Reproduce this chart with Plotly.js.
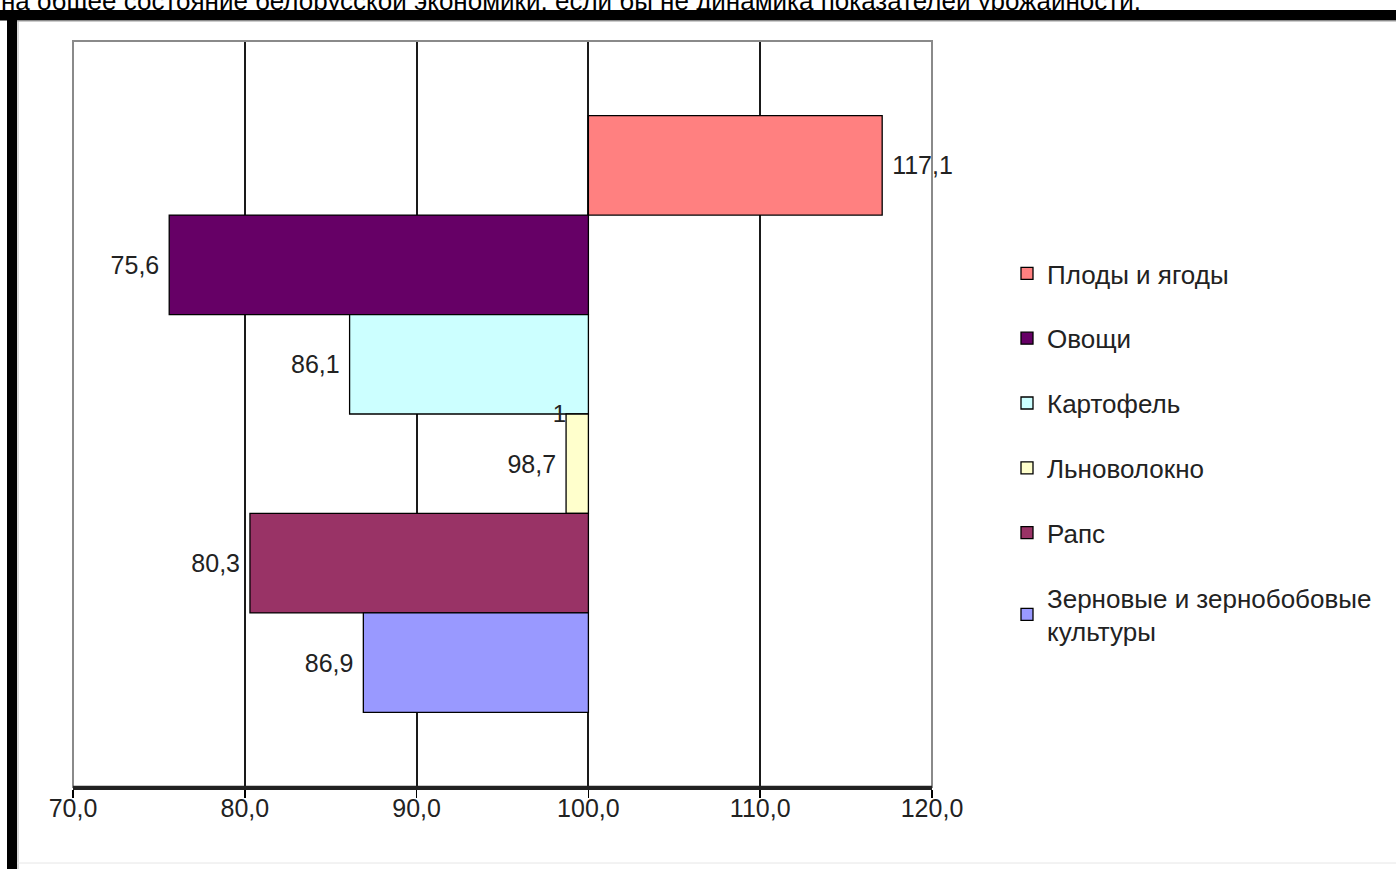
<!DOCTYPE html>
<html>
<head>
<meta charset="utf-8">
<script src="https://cdn.plot.ly/plotly-3.0.1.min.js"></script>
<style>
html,body{margin:0;padding:0;background:#fff;}
#chart{width:1396px;height:869px;}
</style>
</head>
<body>
<div id="chart"></div>
<script>
// ---- data ----
var seriesNames = [
  "Плоды и ягоды",
  "Овощи",
  "Картофель",
  "Льноволокно",
  "Рапс",
  "Зерновые и зернобобовые<br>культуры"
];
var seriesValues = [117.1, 75.6, 86.1, 98.7, 80.3, 86.9];
var seriesColors = ["#FF8080", "#660066", "#CCFFFF", "#FFFFCC", "#993366", "#9999FF"];
var category = ["1"];
var baseValue = 100;
var xTicks = [70, 80, 90, 100, 110, 120];
var headerText = "на общее состояние белорусской экономики, если бы не динамика показателей урожайности.";

// ---- geometry helpers (pixel -> paper) ----
var W = 1396, H = 869;
var M = {l: 73, r: 464, t: 41, b: 82};
var PW = W - M.l - M.r, PH = H - M.t - M.b;
function px(x){ return (x - M.l) / PW; }
function py(y){ return (H - M.b - y) / PH; }

var FONT = "Liberation Sans, Arial, sans-serif";
var NBSP = "\u00A0";

function fmt(v){ return v.toFixed(1).replace(".", ","); }
function barLabel(v){
  // pad the side that faces the bar end
  return v >= baseValue ? NBSP + fmt(v) : fmt(v) + NBSP;
}

var traces = seriesNames.map(function(name, i){
  return {
    type: "bar",
    orientation: "h",
    name: name,
    legendgroup: "g" + i,
    y: category,
    x: [seriesValues[i] - baseValue],
    base: [baseValue],
    marker: {color: seriesColors[i], line: {color: "#000", width: 1.3}},
    text: [barLabel(seriesValues[i])],
    textposition: "outside",
    textfont: {family: FONT, size: 25, color: "#222"},
    cliponaxis: false,
    hoverinfo: "skip"
  };
});

var layout = {
  width: W, height: H,
  margin: {l: M.l, r: M.r, t: M.t, b: M.b, pad: 0},
  paper_bgcolor: "#fff",
  plot_bgcolor: "#fff",
  separators: ", ",
  barmode: "group",
  bargap: 0.2,
  bargroupgap: 0,
  showlegend: true,
  font: {family: FONT, color: "#222"},
  xaxis: {
    range: [70, 120],
    tickvals: xTicks,
    ticktext: xTicks.map(fmt),
    tickfont: {family: FONT, size: 25, color: "#222"},
    ticklabelstandoff: -11,
    showgrid: true,
    gridcolor: "#1a1a1a",
    gridwidth: 2,
    zeroline: false,
    showline: true,
    linecolor: "#222",
    linewidth: 2.5,
    ticks: "outside",
    ticklen: 8,
    tickwidth: 1.5,
    tickcolor: "#000",
    fixedrange: true
  },
  yaxis: {
    type: "category",
    autorange: "reversed",
    anchor: "free",
    position: px(588),
    showgrid: false,
    zeroline: false,
    showline: false,
    ticks: "",
    ticklabelstandoff: 22,
    tickfont: {family: FONT, size: 24, color: "#222"},
    fixedrange: true
  },
  legend: {
    xref: "container", yref: "container",
    x: 1007 / W, y: 1 - 250 / H,
    xanchor: "left", yanchor: "top",
    font: {family: FONT, size: 26, color: "#222"},
    tracegroupgap: 28,
    bgcolor: "rgba(0,0,0,0)",
    borderwidth: 0
  },
  shapes: [
    // plot area border (gray)
    {type: "rect", xref: "paper", yref: "paper", x0: 0, x1: 1, y0: 0, y1: 1,
     line: {color: "#8a8a8a", width: 2}, layer: "above"},
    // bottom axis redraw
    {type: "line", xref: "paper", yref: "paper", x0: 0, x1: 1, y0: 0, y1: 0,
     line: {color: "#222", width: 2.5}, layer: "above"},
    // black frame top
    {type: "rect", xref: "paper", yref: "paper", x0: px(0), x1: px(W), y0: py(20.5), y1: py(10),
     fillcolor: "#000", line: {width: 0}, layer: "above"},
    // black frame left
    {type: "rect", xref: "paper", yref: "paper", x0: px(7), x1: px(17), y0: py(H), y1: py(10),
     fillcolor: "#000", line: {width: 0}, layer: "above"},
    // inner gray edges
    {type: "line", xref: "paper", yref: "paper", x0: px(17), x1: px(W), y0: py(21), y1: py(21),
     line: {color: "#9a9a9a", width: 1}, layer: "above"},
    {type: "line", xref: "paper", yref: "paper", x0: px(18), x1: px(18), y0: py(H), y1: py(21),
     line: {color: "#b0b0b0", width: 1}, layer: "above"},
    // faint bottom line
    {type: "line", xref: "paper", yref: "paper", x0: px(17), x1: px(W), y0: py(863), y1: py(863),
     line: {color: "#e6e6e6", width: 1}, layer: "above"}
  ],
  annotations: [
    {text: headerText, xref: "paper", yref: "paper", x: px(-1), y: py(18),
     xanchor: "left", yanchor: "bottom", showarrow: false,
     font: {family: FONT, size: 26, color: "#000"}}
  ]
};

Plotly.newPlot("chart", traces, layout, {displayModeBar: false, staticPlot: true});
</script>
</body>
</html>
